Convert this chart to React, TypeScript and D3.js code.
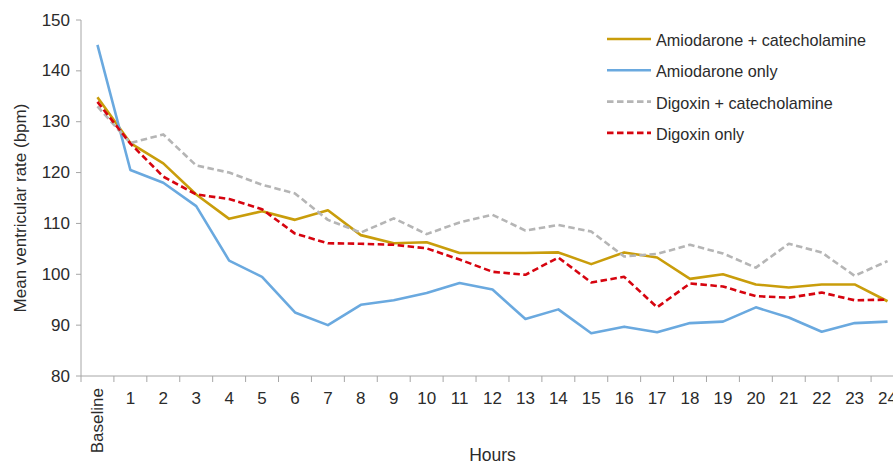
import React from "react";
import * as d3 from "d3";

// Hour labels along the x axis
const hours: string[] = [
  "Baseline", "1", "2", "3", "4", "5", "6", "7", "8", "9", "10", "11", "12",
  "13", "14", "15", "16", "17", "18", "19", "20", "21", "22", "23", "24",
];

// Mean ventricular rate (bpm) per group
const amioCatechol: number[] = [
  134.8, 125.8, 121.8, 115.7, 110.9, 112.4, 110.7, 112.6, 107.7, 106.1, 106.3, 104.2, 104.2,
  104.2, 104.3, 102.0, 104.3, 103.3, 99.1, 100.0, 98.0, 97.4, 98.0, 98.0, 94.7,
];
const amioOnly: number[] = [
  145.1, 120.5, 118.0, 113.4, 102.7, 99.5, 92.5, 90.0, 94.0, 94.9, 96.3, 98.3, 97.0,
  91.2, 93.1, 88.4, 89.7, 88.6, 90.4, 90.7, 93.5, 91.5, 88.7, 90.4, 90.7,
];
const digoxinCatechol: number[] = [
  133.0, 125.8, 127.5, 121.4, 120.0, 117.6, 115.9, 110.7, 108.2, 111.0, 107.9, 110.2, 111.7,
  108.6, 109.7, 108.4, 103.5, 104.0, 105.8, 104.1, 101.3, 106.0, 104.3, 99.7, 102.6,
];
const digoxinOnly: number[] = [
  133.9, 125.7, 119.2, 115.7, 114.8, 112.8, 108.0, 106.1, 106.0, 105.8, 105.1, 102.9, 100.5,
  99.9, 103.3, 98.4, 99.5, 93.5, 98.2, 97.6, 95.7, 95.4, 96.4, 94.9, 95.0,
];

const yTicks: number[] = [80, 90, 100, 110, 120, 130, 140, 150];

const seriesNames: string[] = [
  "Amiodarone + catecholamine",
  "Amiodarone only",
  "Digoxin + catecholamine",
  "Digoxin only",
];

const W = 893;
const H = 465;
const left = 81;
const right = 904;
const top = 20;
const bottom = 376;
const textColor = "#2b2b2b";
const axisColor = "#a6a6a6";
const font = "'Liberation Sans', Arial, Helvetica, sans-serif";

const styles = [
  { color: "#c99d0b", dash: undefined as string | undefined },
  { color: "#6aa9df", dash: undefined as string | undefined },
  { color: "#b5b5b5", dash: "6.5,3.5" },
  { color: "#d6040f", dash: "6.5,3.5" },
];

export default function App() {
  const data = [amioCatechol, amioOnly, digoxinCatechol, digoxinOnly];

  const x = d3.scaleBand<string>().domain(hours).range([left, right]);
  const y = d3.scaleLinear().domain([80, 150]).range([bottom, top]);
  const cx = (h: string) => (x(h) as number) + x.bandwidth() / 2;

  const line = d3
    .line<number>()
    .x((_, i) => cx(hours[i]))
    .y((v) => y(v));

  const bandEdges = hours.map((h) => x(h) as number).concat([right]);

  return (
    <svg
      width={W}
      height={H}
      style={{ position: "absolute", left: 0, top: 0, background: "#fff", fontFamily: font }}
    >
      {/* y axis */}
      <line x1={left} x2={left} y1={top} y2={bottom} stroke={axisColor} strokeWidth={1} />
      {yTicks.map((t) => (
        <g key={t}>
          <line x1={left - 5} x2={left} y1={y(t)} y2={y(t)} stroke={axisColor} strokeWidth={1} />
          <text
            x={left - 11}
            y={y(t)}
            textAnchor="end"
            dominantBaseline="central"
            fontSize={17}
            fill={textColor}
          >
            {t}
          </text>
        </g>
      ))}
      <text
        transform={`translate(20,${(top + bottom) / 2 + 10}) rotate(-90)`}
        textAnchor="middle"
        dominantBaseline="central"
        fontSize={17}
        fill={textColor}
      >
        Mean ventricular rate (bpm)
      </text>

      {/* x axis */}
      <line x1={left} x2={right} y1={bottom} y2={bottom} stroke={axisColor} strokeWidth={1} />
      {bandEdges.map((e, i) => (
        <line key={i} x1={e} x2={e} y1={bottom} y2={bottom + 6} stroke={axisColor} strokeWidth={1} />
      ))}
      {hours.map((h, i) =>
        i === 0 ? (
          <text
            key={h}
            transform={`translate(${cx(h)},${bottom + 12}) rotate(-90)`}
            textAnchor="end"
            dominantBaseline="central"
            fontSize={17}
            fill={textColor}
          >
            {h}
          </text>
        ) : (
          <text
            key={h}
            x={cx(h)}
            y={bottom + 22}
            textAnchor="middle"
            dominantBaseline="central"
            fontSize={17}
            fill={textColor}
          >
            {h}
          </text>
        )
      )}
      <text x={(left + right) / 2} y={461} textAnchor="middle" fontSize={17.5} fill={textColor}>
        Hours
      </text>

      {/* series */}
      {data.map((d, i) => (
        <path
          key={seriesNames[i]}
          d={line(d) as string}
          fill="none"
          stroke={styles[i].color}
          strokeWidth={2.6}
          strokeDasharray={styles[i].dash}
          strokeLinejoin="round"
        />
      ))}

      {/* legend */}
      {seriesNames.map((name, i) => {
        const ly = 39 + i * 31.3;
        return (
          <g key={name}>
            <line
              x1={607}
              x2={651}
              y1={ly}
              y2={ly}
              stroke={styles[i].color}
              strokeWidth={2.6}
              strokeDasharray={styles[i].dash}
            />
            <text x={656} y={ly + 1} dominantBaseline="central" fontSize={16.2} fill={textColor}>
              {name}
            </text>
          </g>
        );
      })}
    </svg>
  );
}
